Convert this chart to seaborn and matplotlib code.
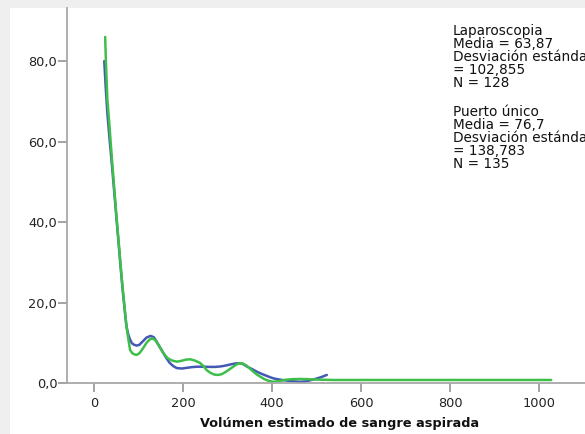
import matplotlib
matplotlib.use("Agg")
import matplotlib.pyplot as plt
from matplotlib.patches import Rectangle
from matplotlib.ticker import FuncFormatter
import numpy as np
import pandas as pd
import seaborn as sns

# Estimated volume of aspirated blood: density-style curves per surgical group
lap_x = [23, 26, 30, 35, 40, 45, 50, 55, 60, 64, 67, 70, 73, 77, 81, 85, 90, 96, 102,
         110, 118, 127, 134, 140, 148, 156, 163, 170, 178, 186, 198, 210, 220, 231,
         245, 260, 272, 283, 292, 300, 310, 321, 333, 345, 356, 366, 376, 385, 394,
         403, 412, 420, 430, 440, 452, 463, 475, 490, 500, 510, 517, 523]
lap_y = [80.0, 74.0, 67.0, 60.5, 54.5, 48.0, 41.5, 35.0, 28.5, 23.5, 20.3, 17.0, 14.0,
         12.0, 10.8, 9.9, 9.5, 9.3, 9.5, 10.4, 11.3, 11.7, 11.4, 10.4, 8.9, 7.4, 6.1,
         5.0, 4.2, 3.7, 3.6, 3.8, 3.95, 4.05, 4.05, 4.0, 4.0, 4.1, 4.25, 4.45, 4.7,
         4.9, 4.8, 4.0, 3.4, 2.8, 2.3, 1.9, 1.5, 1.15, 0.95, 0.8, 0.65, 0.5, 0.38,
         0.3, 0.38, 0.8, 1.1, 1.45, 1.75, 2.0]

pu_x = [25, 27, 30, 35, 40, 45, 50, 55, 60, 64, 67, 70, 73, 77, 81, 86, 91, 96, 102,
        110, 118, 125, 131, 138, 146, 156, 165, 175, 186, 196, 206, 216, 226, 238,
        246, 253, 262, 270, 279, 287, 295, 303, 312, 320, 327, 335, 343, 350, 358,
        366, 373, 382, 392, 403, 415, 430, 445, 463, 480, 500, 537, 600, 700, 800,
        900, 1000, 1027]
pu_y = [86.0, 79.0, 70.5, 63.5, 56.0, 49.0, 42.0, 35.5, 29.0, 24.0, 20.6, 17.2, 14.0,
        11.0, 8.2, 7.4, 7.1, 7.0, 7.4, 8.6, 10.0, 10.8, 11.1, 10.6, 9.2, 7.4, 6.2,
        5.6, 5.3, 5.5, 5.8, 5.9, 5.6, 5.0, 4.2, 3.2, 2.5, 2.1, 2.0, 2.2, 2.7, 3.3,
        4.0, 4.6, 4.9, 4.8, 4.3, 3.6, 2.8, 2.1, 1.6, 1.0, 0.55, 0.3, 0.45, 0.8, 0.95,
        1.0, 0.95, 0.85, 0.75, 0.75, 0.75, 0.75, 0.75, 0.75, 0.75]

groups = ["Laparoscopia", "Puerto único"]
group_colors = ["#4459b4", "#3dbf4a"]
group_stats = [
    ["Laparoscopia", "Media = 63,87", "Desviación estándar", "= 102,855", "N = 128"],
    ["Puerto único", "Media = 76,7", "Desviación estándar", "= 138,783", "N = 135"],
]

x_ticks = [0, 200, 400, 600, 800, 1000]
y_ticks = [0, 20, 40, 60, 80]
x_label = "Volúmen estimado de sangre aspirada"

df = pd.concat([
    pd.DataFrame({"volumen": lap_x, "densidad": lap_y, "grupo": groups[0]}),
    pd.DataFrame({"volumen": pu_x, "densidad": pu_y, "grupo": groups[1]}),
], ignore_index=True)

sns.set_theme(style="white")
plt.rcParams["font.family"] = ["DejaVu Sans"]

fig = plt.figure(figsize=(5.85, 4.34), dpi=100, facecolor="#efefef")
# white panel inside the light grey frame
fig.patches.append(Rectangle((10 / 585, 0), 1, 426 / 434, transform=fig.transFigure,
                             facecolor="white", edgecolor="none", zorder=-10))

ax = fig.add_axes([67 / 585, 51 / 434, 1 - 67 / 585, 375 / 434])
ax.set_facecolor("none")

sns.lineplot(data=df, x="volumen", y="densidad", hue="grupo", hue_order=groups,
             palette=group_colors, linewidth=1.8, legend=False, sort=False,
             estimator=None, ax=ax)

ax.set_xlim(-60.7, 1103)
ax.set_ylim(0, 93.2)
ax.set_xticks(x_ticks)
ax.set_yticks(y_ticks)
ax.yaxis.set_major_formatter(FuncFormatter(lambda v, p: f"{v:.1f}".replace(".", ",")))

for side in ["top", "right"]:
    ax.spines[side].set_visible(False)
for side in ["left", "bottom"]:
    ax.spines[side].set_color("#a8a8a8")
    ax.spines[side].set_linewidth(1.3)
ax.tick_params(axis="both", which="major", direction="out", bottom=True, left=True,
               length=6.5, width=1.1, color="#8a8a8a",
               labelsize=9.3, labelcolor="#222222")
ax.tick_params(axis="y", pad=0.5)
ax.tick_params(axis="x", pad=3.5)
ax.set_xlabel("")
ax.set_ylabel("")

fig.text(340 / 585, 1 - 423 / 434, x_label, ha="center", va="center",
         fontsize=9.3, fontweight="bold", color="#111111")

# group summary statistics at the upper right
baseline = 35
for stats in group_stats:
    for line in stats:
        fig.text(453 / 585, 1 - baseline / 434, line, ha="left", va="baseline",
                 fontsize=9.8, color="#111111")
        baseline += 13.1
    baseline += 15.2

fig.savefig("out.png", dpi=100, facecolor=fig.get_facecolor())
